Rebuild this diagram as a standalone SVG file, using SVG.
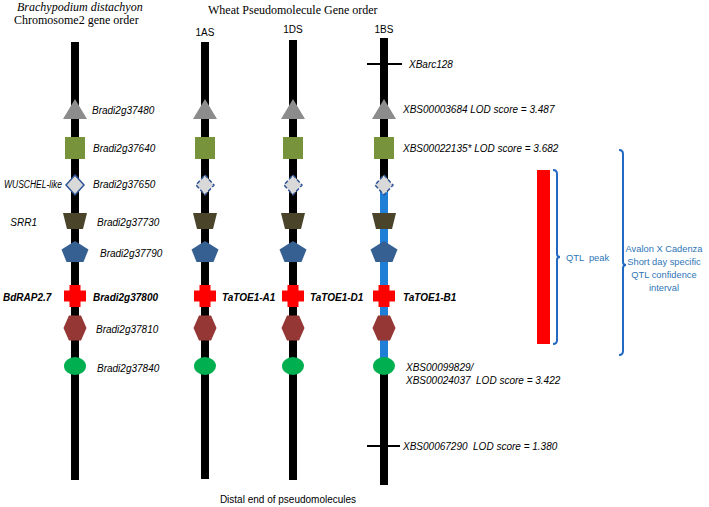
<svg xmlns="http://www.w3.org/2000/svg" xmlns:xlink="http://www.w3.org/1999/xlink" width="709" height="507" viewBox="0 0 709 507">
<style>
.serif{font-family:"Liberation Serif","Times New Roman",serif;font-size:12px;fill:#000}
.lab{font-family:"Liberation Sans",Arial,sans-serif;font-size:10px;font-style:italic;fill:#000}
.bold{font-weight:bold}
.hdr{font-family:"Liberation Sans",Arial,sans-serif;font-size:10px;fill:#000}
.blue{font-family:"Liberation Sans",Arial,sans-serif;font-size:9.3px;fill:#2E75B6}
.bar{fill:#000}
.tick{stroke:#000;stroke-width:2}
.brk{fill:none;stroke:#2369C1;stroke-width:2}
</style>
<defs>
<polygon id="tri" points="0,-10 12,10 -12,10" fill="#8C8C8C"/>
<rect id="sq" x="-10" y="-11" width="20" height="22" fill="#77933C"/>
<polygon id="dia" points="0,-10 9,0 0,10 -9,0" fill="#D9D9D9" stroke="#2F5597" stroke-width="1.5"/>
<polygon id="diad" points="0,-10 9,0 0,10 -9,0" fill="#D9D9D9" stroke="#2F5597" stroke-width="1.5" stroke-dasharray="4,2"/>
<polygon id="trap" points="-12,-8 12,-8 8,8 -8,8" fill="#4A452A"/>
<polygon id="pent" points="0,-11 13.5,-2.5 8.5,10 -8.5,10 -13.5,-2.5" fill="#376092"/>
<path id="cross" d="M-5.5,-11h11v5.5h5.5v11h-5.5v5.5h-11v-5.5h-5.5v-11h5.5z" fill="#FF0000"/>
<polygon id="hex" points="-11.5,0 -6,-12.5 6,-12.5 11.5,0 6,12.5 -6,12.5" fill="#953735"/>
<ellipse id="ell" cx="0" cy="0" rx="11" ry="9" fill="#00B050"/>
</defs>

<g id="titles">
<text class="serif" x="17" y="11" font-style="italic">Brachypodium distachyon</text>
<text class="serif" x="14" y="24">Chromosome2 gene order</text>
<text class="serif" x="208" y="14">Wheat Pseudomolecule Gene order</text>
<text class="hdr" x="205" y="36" text-anchor="middle">1AS</text>
<text class="hdr" x="293" y="33" text-anchor="middle">1DS</text>
<text class="hdr" x="384" y="33" text-anchor="middle">1BS</text>
<text class="hdr" x="288" y="503" text-anchor="middle">Distal end of pseudomolecules</text>
</g>

<g id="connectors">
<rect class="bar" x="71" y="42" width="8" height="438"/>
<rect class="bar" x="201" y="42" width="8" height="437"/>
<rect class="bar" x="289" y="40" width="8" height="440"/>
<rect class="bar" x="380" y="38" width="8" height="447"/>
<rect x="380" y="192" width="8" height="168" fill="#1F7ED6"/>
<line class="tick" x1="367" y1="64" x2="402" y2="64"/>
<line class="tick" x1="367" y1="446" x2="400" y2="446"/>
</g>

<g id="chr-bd">
<use xlink:href="#tri" x="75" y="109"/>
<use xlink:href="#sq" x="75" y="148"/>
<use xlink:href="#dia" x="75" y="185"/>
<use xlink:href="#trap" x="75" y="221"/>
<use xlink:href="#pent" x="75" y="252"/>
<use xlink:href="#cross" x="75" y="296"/>
<use xlink:href="#hex" x="75" y="328"/>
<use xlink:href="#ell" x="75" y="366"/>
<text class="lab" x="92" y="114">Bradi2g37480</text>
<text class="lab" x="93" y="152">Bradi2g37640</text>
<text class="lab" x="93" y="188">Bradi2g37650</text>
<text class="lab" x="97" y="226">Bradi2g37730</text>
<text class="lab" x="100" y="257">Bradi2g37790</text>
<text class="lab bold" x="93" y="301">Bradi2g37800</text>
<text class="lab" x="96" y="333">Bradi2g37810</text>
<text class="lab" x="97" y="372">Bradi2g37840</text>
<text class="lab" x="4" y="188" font-size="8.5" textLength="58" lengthAdjust="spacingAndGlyphs">WUSCHEL-like</text>
<text class="lab" x="37" y="226" text-anchor="end">SRR1</text>
<text class="lab bold" x="3" y="301">BdRAP2.7</text>
</g>

<g id="chr-1AS">
<use xlink:href="#tri" x="205" y="109"/>
<use xlink:href="#sq" x="205" y="148"/>
<use xlink:href="#diad" x="205" y="185"/>
<use xlink:href="#trap" x="205" y="221"/>
<use xlink:href="#pent" x="205" y="252"/>
<use xlink:href="#cross" x="205" y="296"/>
<use xlink:href="#hex" x="205" y="328"/>
<use xlink:href="#ell" x="205" y="366"/>
<text class="lab bold" x="222" y="301" font-size="9.5">TaTOE1-A1</text>
</g>

<g id="chr-1DS">
<use xlink:href="#tri" x="293" y="109"/>
<use xlink:href="#sq" x="293" y="148"/>
<use xlink:href="#diad" x="293" y="185"/>
<use xlink:href="#trap" x="293" y="221"/>
<use xlink:href="#pent" x="293" y="252"/>
<use xlink:href="#cross" x="293" y="296"/>
<use xlink:href="#hex" x="293" y="328"/>
<use xlink:href="#ell" x="293" y="366"/>
<text class="lab bold" x="310" y="301" font-size="9.5">TaTOE1-D1</text>
</g>

<g id="chr-1BS">
<use xlink:href="#tri" x="384" y="109"/>
<use xlink:href="#sq" x="384" y="148"/>
<use xlink:href="#diad" x="384" y="185"/>
<use xlink:href="#trap" x="384" y="221"/>
<use xlink:href="#pent" x="384" y="252"/>
<use xlink:href="#cross" x="384" y="296"/>
<use xlink:href="#hex" x="384" y="328"/>
<use xlink:href="#ell" x="384" y="366"/>
<text class="lab" x="409" y="68">XBarc128</text>
<text class="lab" x="403" y="113">XBS00003684 LOD score = 3.487</text>
<text class="lab" x="403" y="152">XBS00022135* LOD score = 3.682</text>
<text class="lab bold" x="403" y="301" font-size="9.5">TaTOE1-B1</text>
<text class="lab" x="406" y="371">XBS00099829/</text>
<text class="lab" x="406" y="384" xml:space="preserve">XBS00024037  LOD score = 3.422</text>
<text class="lab" x="403" y="450" xml:space="preserve">XBS00067290  LOD score = 1.380</text>
</g>

<g id="qtl-peak">
<rect x="537" y="170" width="13" height="174" fill="#FF0000"/>
<path class="brk" d="M553,170 Q557,170 557,174 V254 Q557,257 560,257 Q557,257 557,260 V340 Q557,344 553,344"/>
<text class="blue" x="566" y="261" xml:space="preserve">QTL  peak</text>
</g>

<g id="qtl-interval">
<path class="brk" d="M619,150 Q623,150 623,154 V262 Q623,265 626,265 Q623,265 623,268 V351 Q623,355 619,355"/>
<text class="blue" text-anchor="middle" x="664" y="252">Avalon X Cadenza</text>
<text class="blue" text-anchor="middle" x="664" y="265">Short day specific</text>
<text class="blue" text-anchor="middle" x="664" y="278">QTL confidence</text>
<text class="blue" text-anchor="middle" x="664" y="291">interval</text>
</g>
</svg>
